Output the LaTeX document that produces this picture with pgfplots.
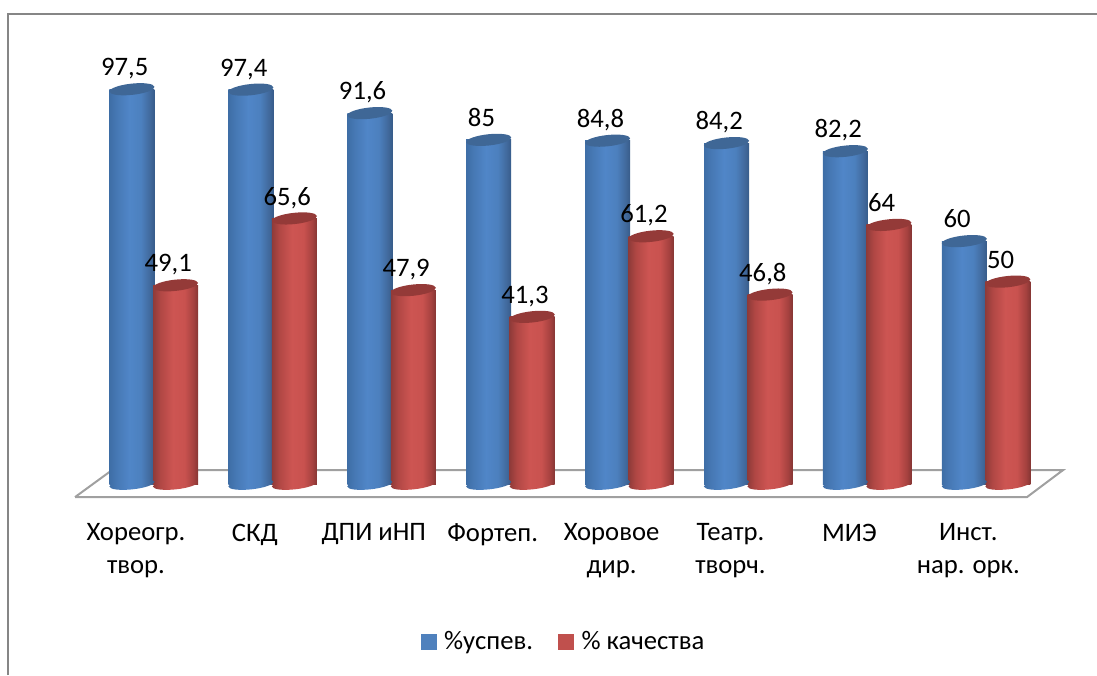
\documentclass[border=0pt]{standalone}
\usepackage{fontspec}
\setmainfont{Carlito}
\usepackage{pgfplots}
\pgfplotsset{compat=1.18}

% 1 px of the reference = 0.75pt here
\definecolor{capblue}{HTML}{3F6796}
\definecolor{capred}{HTML}{943A38}
\definecolor{legblue}{HTML}{4F81BD}
\definecolor{legred}{HTML}{C0504D}
\definecolor{floorgray}{HTML}{A0A0A0}
\definecolor{framegray}{HTML}{868686}

\pgfdeclarehorizontalshading{cylblue}{100bp}{
  rgb(0bp)=(0.243,0.431,0.651); rgb(25bp)=(0.243,0.431,0.651);
  rgb(33bp)=(0.275,0.471,0.706); rgb(47bp)=(0.314,0.525,0.784);
  rgb(60bp)=(0.298,0.502,0.745); rgb(70bp)=(0.255,0.412,0.612);
  rgb(75bp)=(0.216,0.361,0.541); rgb(100bp)=(0.216,0.361,0.541)}
\pgfdeclarehorizontalshading{cylred}{100bp}{
  rgb(0bp)=(0.561,0.231,0.224); rgb(25bp)=(0.561,0.231,0.224);
  rgb(33bp)=(0.690,0.278,0.267); rgb(47bp)=(0.804,0.333,0.322);
  rgb(60bp)=(0.788,0.322,0.310); rgb(70bp)=(0.647,0.255,0.247);
  rgb(75bp)=(0.525,0.212,0.204); rgb(100bp)=(0.525,0.212,0.204)}

\pgfdeclareplotmark{cap}{%
  \pgfpathellipse{\pgfpointorigin}{\pgfpoint{16.9pt}{1.8pt}}{\pgfpoint{-0.4pt}{4.2pt}}%
  \pgfusepathqfill}
\pgfdeclareplotmark{baseblue}{%
  \pgfpathellipse{\pgfpointorigin}{\pgfpoint{16.9pt}{1.8pt}}{\pgfpoint{-0.4pt}{3.9pt}}%
  \pgfshadepath{cylblue}{0}\pgfusepath{discard}}
\pgfdeclareplotmark{basered}{%
  \pgfpathellipse{\pgfpointorigin}{\pgfpoint{16.9pt}{1.8pt}}{\pgfpoint{-0.4pt}{3.9pt}}%
  \pgfshadepath{cylred}{0}\pgfusepath{discard}}

% one series per bar: a shaded ybar path is shaded as a whole otherwise
% #1 base mark, #2 shading, #3 cap colour, #4 x, #5 value
\newcommand{\cyl}[5]{%
  \addplot[forget plot, only marks, mark=#1] coordinates {(#4,0)};
  \addplot[forget plot, ybar, bar width=33.75pt, bar shift=0pt, draw=none, shading=#2] coordinates {(#4,#5)};
  \addplot[forget plot, only marks, mark=cap, mark options={draw=none, fill=#3},
      nodes near coords={\pgfmathprintnumber{\pgfplotspointmeta}},
      every node near coord/.append style={font=\fontsize{20}{24}\selectfont, text=black,
        anchor=base, inner sep=0pt, xshift=-5.4pt, yshift=10pt,
        /pgf/number format/use comma, /pgf/number format/assume math mode=true}]
      coordinates {(#4,#5)};
}
\newcommand{\bl}[2]{\cyl{baseblue}{cylblue}{capblue}{#1}{#2}}
\newcommand{\rd}[2]{\cyl{basered}{cylred}{capred}{#1}{#2}}

\begin{document}
\begin{tikzpicture}
\begin{axis}[
    scale only axis,
    width=822.75pt, height=506.25pt,
    xmin=-1.11, xmax=8.116,
    ymin=-47.16, ymax=119.5,
    axis line style={draw=none},
    major tick length=0pt,
    ymajorticks=false,
    xtick={0,1,2,3,4,5,6,7},
    xticklabels={{Хореогр.\\твор.},{СКД},{ДПИ иНП},{Фортеп.},{Хоровое\\дир.},{Театр.\\творч.},{МИЭ},{Инст.\\нар. орк.}},
    xticklabel style={align=center, anchor=north, xshift=3pt, yshift=117pt,
        font=\fontsize{20}{24.75}\selectfont},
    legend style={draw=none, fill=none, at={(0.514,0.05)}, anchor=center,
        legend columns=2, font=\fontsize{20}{24}\selectfont,
        /tikz/every even column/.append style={column sep=17pt}},
]
    \addlegendimage{legend image code/.code={
        \fill[legblue] (0pt,-5.6pt) rectangle (11.25pt,5.6pt); \path (15pt,0pt);}}
    \addlegendentry{\%успев.}
    \addlegendimage{legend image code/.code={
        \fill[legred] (0pt,-5.6pt) rectangle (11.25pt,5.6pt); \path (15pt,0pt);}}
    \addlegendentry{\% качества}

    % outer frame, top and left only
    \addplot[framegray, line width=1.1pt, forget plot] coordinates {
        (-1.043,-47.16) (-1.043,116.05) (8.116,116.05)};
    % floor
    \addplot[floorgray, line width=1.5pt, forget plot] coordinates {
        (-0.479,-3.2) (7.527,-3.2) (7.83,3.46) (-0.168,3.46) (-0.479,-3.2)};

    % %успев.
    \bl{0}{97.5}
    \bl{1}{97.4}
    \bl{2}{91.6}
    \bl{3}{85}
    \bl{4}{84.8}
    \bl{5}{84.2}
    \bl{6}{82.2}
    \bl{7}{60}
    % % качества
    \rd{0.366}{49.1}
    \rd{1.366}{65.6}
    \rd{2.366}{47.9}
    \rd{3.366}{41.3}
    \rd{4.366}{61.2}
    \rd{5.366}{46.8}
    \rd{6.366}{64}
    \rd{7.366}{50}
\end{axis}
\end{tikzpicture}
\end{document}
